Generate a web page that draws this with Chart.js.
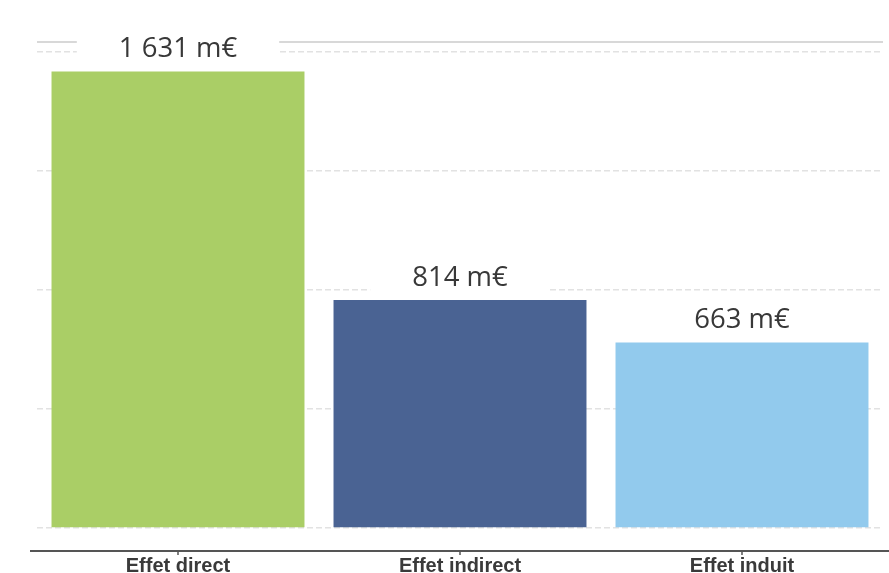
<!DOCTYPE html>
<html>
<head>
<meta charset="utf-8">
<script src="https://cdn.jsdelivr.net/npm/chart.js@4"></script>
<style>
  html, body { margin: 0; padding: 0; background: #fff; }
</style>
</head>
<body>
<canvas id="myChart" width="889" height="573"></canvas>
<script>
const categories = ['Effet direct', 'Effet indirect', 'Effet induit'];
const values = [1631, 814, 663];
const valueLabels = ['1 631 m€', '814 m€', '663 m€'];
const barColors = ['#aace66', '#4a6393', '#92caed'];
const yTicks = [0, 425, 850, 1275, 1700];
const yMax = 1736;

// value above each bar, on a white box
const valueLabelPlugin = {
  id: 'valueLabels',
  afterDatasetsDraw(chart) {
    const ctx = chart.ctx;
    const meta = chart.getDatasetMeta(0);
    ctx.save();
    ctx.font = '27.5px "Open Sans"';
    ctx.textAlign = 'center';
    ctx.textBaseline = 'alphabetic';
    meta.data.forEach((bar, i) => {
      const text = valueLabels[i];
      const w = ctx.measureText(text).width;
      const baseY = bar.y - 14;
      ctx.fillStyle = '#fff';
      ctx.fillRect(bar.x - w / 2 - 42, baseY - 30, w + 84, 38);
      ctx.fillStyle = '#383838';
      ctx.fillText(text, bar.x, baseY);
    });
    ctx.restore();
  }
};

// horizontal axis line below the bars, with small ticks
const axisLinePlugin = {
  id: 'axisLine',
  afterDraw(chart) {
    const { ctx, chartArea } = chart;
    const y = chartArea.bottom + 23;
    ctx.save();
    ctx.strokeStyle = '#555';
    ctx.lineWidth = 2;
    ctx.beginPath();
    ctx.moveTo(30, y);
    ctx.lineTo(chart.width, y);
    ctx.stroke();
    ctx.lineWidth = 1.5;
    chart.getDatasetMeta(0).data.forEach(bar => {
      ctx.beginPath();
      ctx.moveTo(bar.x, y + 1);
      ctx.lineTo(bar.x, y + 4);
      ctx.stroke();
    });
    ctx.restore();
  }
};

const isTop = c => c.tick && c.tick.value === yMax;

const ctx = document.getElementById('myChart').getContext('2d');
const chart = new Chart(ctx, {
  type: 'bar',
  data: {
    labels: categories,
    datasets: [{
      data: values,
      backgroundColor: barColors,
      categoryPercentage: 1,
      barPercentage: 0.897
    }]
  },
  options: {
    responsive: false,
    animation: false,
    layout: { padding: { left: 37, right: 6, top: 42, bottom: 0 } },
    plugins: {
      legend: { display: false },
      tooltip: { enabled: false }
    },
    scales: {
      x: {
        grid: { display: false, drawTicks: false },
        border: { display: false },
        ticks: {
          padding: 26,
          color: '#3a3a3a',
          font: { family: '"Liberation Sans", Arial, sans-serif', size: 20, weight: 'bold' }
        },
        afterFit: s => { s.height = 45; }
      },
      y: {
        min: 0,
        max: yMax,
        ticks: { display: false },
        afterBuildTicks: s => { s.ticks = yTicks.concat(yMax).map(v => ({ value: v })); },
        grid: {
          drawTicks: false,
          color: c => isTop(c) ? '#d8d8d8' : '#e2e2e2',
          lineWidth: c => isTop(c) ? 2 : 1.5
        },
        border: {
          display: false,
          dash: c => isTop(c) ? [] : [6, 3]
        }
      }
    }
  },
  plugins: [valueLabelPlugin, axisLinePlugin]
});
</script>
</body>
</html>
